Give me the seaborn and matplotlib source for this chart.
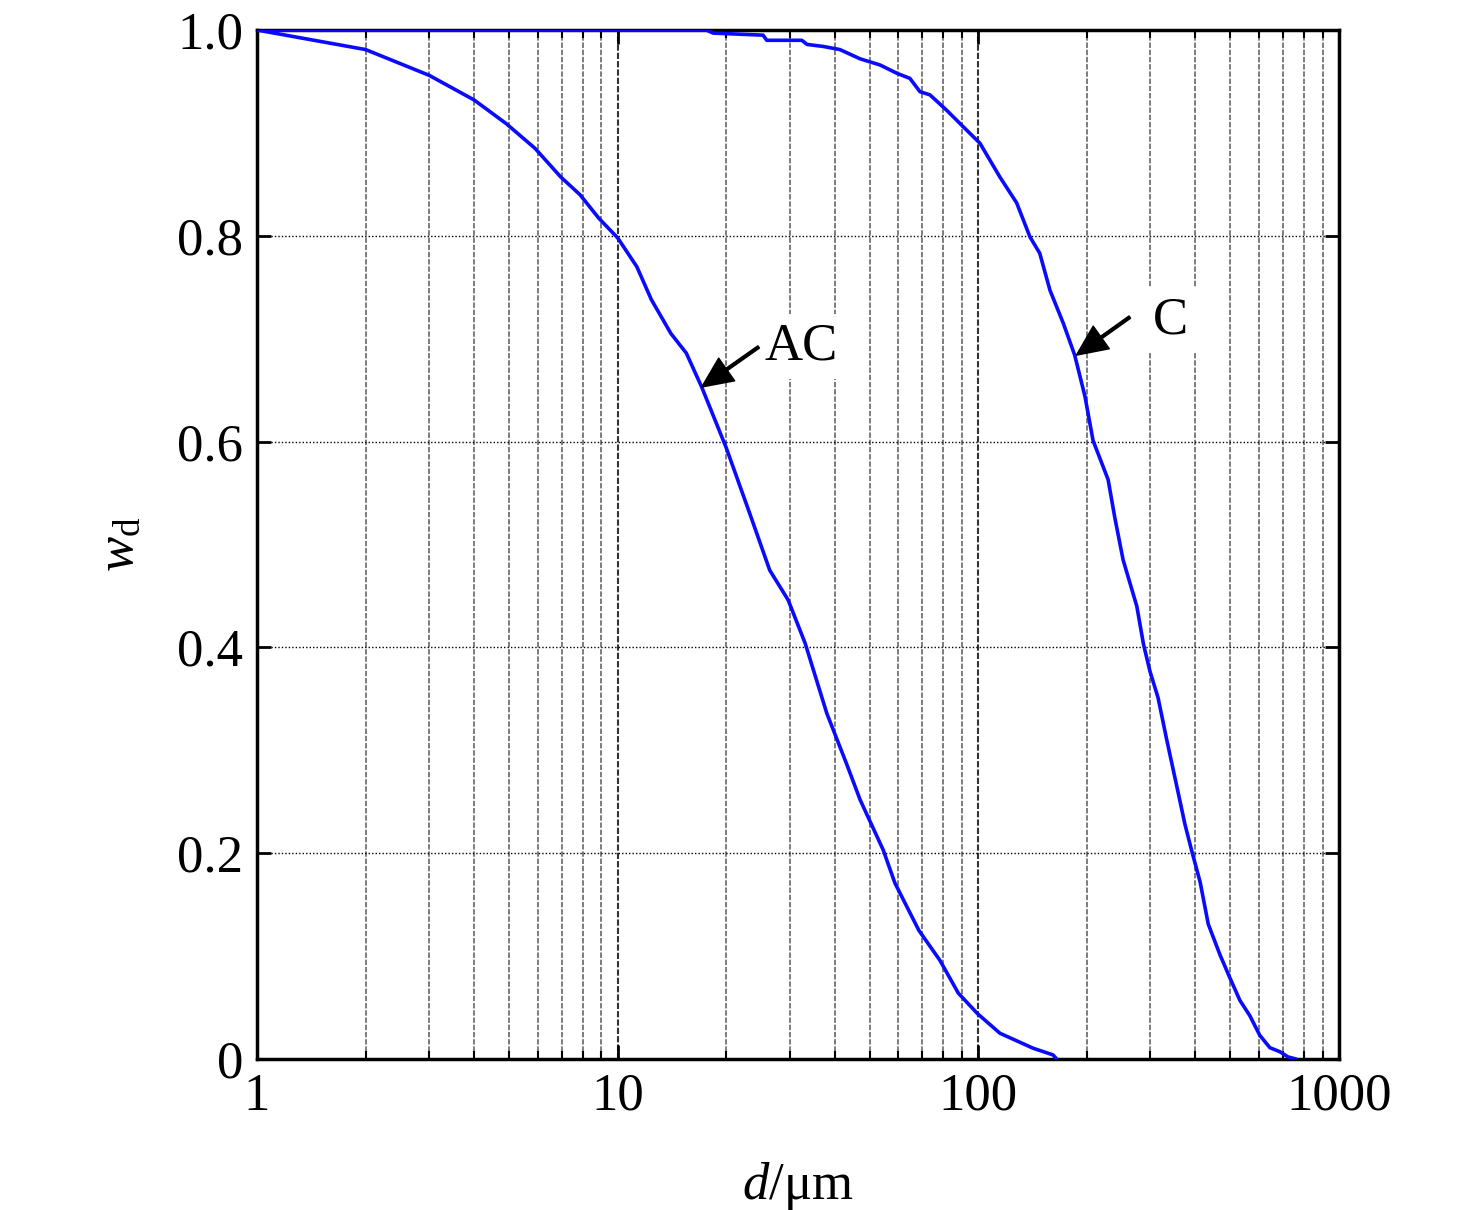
import numpy as np
import pandas as pd
import matplotlib
matplotlib.use('Agg')
import matplotlib.pyplot as plt
from matplotlib.ticker import LogLocator, FixedLocator, NullFormatter
import seaborn as sns

# cumulative undersize fraction w_d vs particle size d (um)
ac_d = [1, 2, 3, 4, 4.91, 5.9, 6.96, 7.86, 8.87, 10, 11.3, 12.4, 14.05, 15.5, 17.1, 20,
        23.3, 26.4, 29.7, 33.1, 38, 43.1, 47, 54.5, 58.7, 68.4, 78.2, 88, 99.5, 114.8,
        142, 161, 165]
ac_w = [1.0, 0.981, 0.956, 0.932, 0.909, 0.885, 0.857, 0.84, 0.817, 0.798, 0.77, 0.738,
        0.705, 0.686, 0.653, 0.594, 0.529, 0.475, 0.446, 0.404, 0.336, 0.287, 0.252, 0.203,
        0.171, 0.125, 0.096, 0.064, 0.044, 0.025, 0.0104, 0.004, 0.0]

c_d = [1, 17.6, 18.4, 25.3, 25.9, 32.4, 33.5, 37.2, 41.3, 47, 53.4, 59.4, 64.6, 68.9, 73.4,
       81.7, 90.8, 101, 114.8, 127.7, 139, 148, 158, 172, 185, 197.5, 208, 229, 239, 252,
       263, 275, 287, 299, 315, 333, 355, 374, 390, 412, 434, 468, 498, 531, 566, 603, 643,
       686, 722, 760]
c_w = [1.0, 1.0, 0.997, 0.995, 0.990, 0.990, 0.986, 0.984, 0.981, 0.972, 0.966, 0.958, 0.953,
       0.940, 0.937, 0.922, 0.906, 0.890, 0.857, 0.832, 0.799, 0.783, 0.747, 0.715, 0.684,
       0.644, 0.601, 0.563, 0.526, 0.485, 0.463, 0.44, 0.403, 0.377, 0.351, 0.31, 0.265,
       0.228, 0.203, 0.172, 0.131, 0.101, 0.079, 0.057, 0.042, 0.023, 0.011, 0.007, 0.002, 0.0]

df = pd.concat([
    pd.DataFrame({'d': ac_d, 'w': ac_w, 'sample': 'AC'}),
    pd.DataFrame({'d': c_d, 'w': c_w, 'sample': 'C'}),
])

sns.set_style('ticks')
plt.rcParams['font.family'] = ['Liberation Serif', 'DejaVu Serif']
plt.rcParams['mathtext.fontset'] = 'custom'
plt.rcParams['mathtext.rm'] = 'Liberation Serif'
plt.rcParams['mathtext.it'] = 'Liberation Serif:italic'
plt.rcParams['text.color'] = 'black'
plt.rcParams['axes.labelcolor'] = 'black'
plt.rcParams['xtick.color'] = 'black'
plt.rcParams['ytick.color'] = 'black'

fig = plt.figure(figsize=(14.76, 12.1), dpi=100)
ax = fig.add_axes([0.1741, 0.1248, 0.7331, 0.8504])

sns.lineplot(data=df, x='d', y='w', hue='sample', palette=['#0a0aff', '#0a0aff'],
             linewidth=2.6, legend=False, ax=ax, zorder=3)

ax.set_xscale('log')
ax.set_xlim(1, 1000)
ax.set_ylim(0, 1)
ax.xaxis.set_major_locator(FixedLocator([1, 10, 100, 1000]))
ax.set_xticklabels(['1', '10', '100', '1000'])
ax.xaxis.set_minor_locator(LogLocator(base=10, subs=np.arange(2, 10)))
ax.xaxis.set_minor_formatter(NullFormatter())
ax.set_yticks([0, 0.2, 0.4, 0.6, 0.8, 1.0])
ax.set_yticklabels(['0', '0.2', '0.4', '0.6', '0.8', '1.0'])

ax.grid(True, axis='x', which='minor', color='0.45', linestyle=(0, (3, 1)), linewidth=1.3)
ax.grid(True, axis='x', which='major', color='0.2', linestyle=(0, (3, 1)), linewidth=1.5)
ax.grid(True, axis='y', which='major', color='black', linestyle=(0, (1, 1.5)), linewidth=1.0)

ax.tick_params(axis='both', which='major', direction='in', length=10, width=2,
               top=True, right=True, labelsize=38, pad=10)
ax.tick_params(axis='x', which='minor', direction='in', length=6, width=1.5,
               top=True, bottom=True)
for sp in ax.spines.values():
    sp.set_linewidth(2.5)
    sp.set_color('black')

ax.set_xlabel(r'$d$/μm', fontsize=38, labelpad=28)
ax.set_ylabel(r'$w_{\mathrm{d}}$', fontsize=38, labelpad=24)

arrow = dict(facecolor='black', edgecolor='black', width=2, headwidth=20, headlength=22, shrink=0)
ax.annotate('', xy=(17.1, 0.653), xytext=(24.6, 0.692), arrowprops=arrow, zorder=5)
ax.annotate('', xy=(187, 0.684), xytext=(263, 0.721), arrowprops=arrow, zorder=5)

box = dict(facecolor='white', edgecolor='none', pad=6)
ax.text(25.6, 0.692, 'AC', fontsize=38, va='center', ha='left', bbox=box, zorder=4)
ax.text(305, 0.718, 'C', fontsize=38, va='center', ha='left', bbox=box, zorder=4)

fig.savefig('out.png', dpi=100)
